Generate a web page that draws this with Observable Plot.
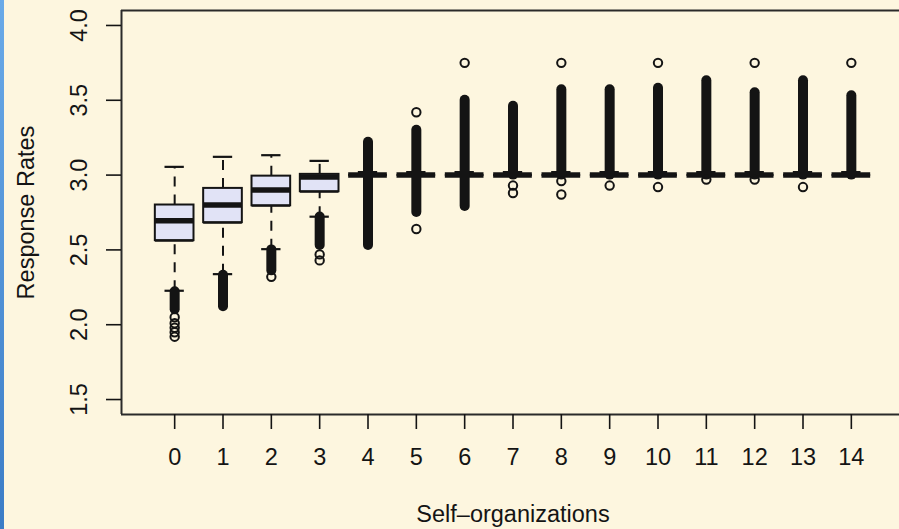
<!DOCTYPE html>
<html><head><meta charset="utf-8">
<script src="https://cdn.jsdelivr.net/npm/d3@7"></script>
<script src="https://cdn.jsdelivr.net/npm/@observablehq/plot@0.6"></script>
<style>
html,body{margin:0;padding:0;background:#FDF6DF;overflow:hidden;}
#wrap{position:relative;width:899px;height:529px;}
#wrap svg{position:absolute;left:0;top:0;}
#strip{position:absolute;left:0;top:0;width:4px;height:529px;background:linear-gradient(#6aaae8,#3b7cc6);z-index:2;}
</style></head><body><div id="wrap"><div id="strip"></div></div>
<script>
// categories: number of self-organizations
const groups = [0,1,2,3,4,5,6,7,8,9,10,11,12,13,14];
// box statistics
const whiskerLow  = [2.227,2.338,2.505,2.722,3.0,3.0,3.0,3.0,3.0,3.0,3.0,3.0,3.0,3.0,3.0];
const quartile1   = [2.562,2.682,2.795,2.889,3.0,3.0,3.0,3.0,3.0,3.0,3.0,3.0,3.0,3.0,3.0];
const medians     = [2.695,2.800,2.900,2.987,3.0,3.0,3.0,3.0,3.0,3.0,3.0,3.0,3.0,3.0,3.0];
const quartile3   = [2.800,2.911,2.993,3.005,3.0,3.0,3.0,3.0,3.0,3.0,3.0,3.0,3.0,3.0,3.0];
const whiskerHigh = [3.055,3.122,3.133,3.095,3.02,3.02,3.02,3.02,3.02,3.02,3.02,3.02,3.02,3.02,3.02];
// ranges over which outliers are so dense they form a solid column
const denseLow  = [2.10,2.12,2.36,2.53,2.53,2.75,2.79,3.00,3.00,3.00,3.00,3.00,3.00,3.00,3.00];
const denseHigh = [2.22,2.33,2.50,2.72,3.22,3.30,3.50,3.46,3.57,3.57,3.58,3.63,3.55,3.63,3.53];
// separately visible outliers
const isolatedOutliers = [
  [2.05,2.01,1.98,1.95,1.92],
  [],
  [2.32],
  [2.47,2.43],
  [],
  [3.42,2.64],
  [3.75],
  [2.93,2.88],
  [3.75,2.96,2.87],
  [2.93],
  [3.75,2.92],
  [2.97],
  [3.75,2.97],
  [2.92],
  [3.75]
];
const yTicks = [1.5,2.0,2.5,3.0,3.5,4.0];
const xTicks = groups;
const yTickLabels = ["1.5","2.0","2.5","3.0","3.5","4.0"];
const xTitle = "Self\u2013organizations";
const yTitle = "Response Rates";

const boxes = groups.map((g,i)=>({g, lo:whiskerLow[i], q1:quartile1[i], med:medians[i], q3:quartile3[i], hi:whiskerHigh[i]}));
const dense = groups.map((g,i)=>({g, lo:denseLow[i], hi:denseHigh[i]}));
const outliers = groups.flatMap((g,i)=>isolatedOutliers[i].map(v=>({g, v})));

const ink = "#141414";
const boxHalf = 0.4, capHalf = 0.2;
const fontSize = 23.5;

const chart = Plot.plot({
  width: 899, height: 529,
  marginLeft: 121, marginRight: 0, marginTop: 10, marginBottom: 115,
  style: {background: "transparent", fontFamily: "'Liberation Sans', Arial, Helvetica, sans-serif", color: ink, overflow: "visible"},
  x: {domain: [-1.1, 15.1], range: [121, 904], label: null},
  y: {domain: [1.4, 4.1], label: null},
  marks: [
    // whiskers
    Plot.ruleX(boxes, {x: "g", y1: "lo", y2: "q1", stroke: ink, strokeWidth: 2, strokeDasharray: "10,8"}),
    Plot.ruleX(boxes, {x: "g", y1: "q3", y2: "hi", stroke: ink, strokeWidth: 2, strokeDasharray: "10,8"}),
    Plot.ruleY(boxes, {y: "lo", x1: d=>d.g-capHalf, x2: d=>d.g+capHalf, stroke: ink, strokeWidth: 2.2}),
    Plot.ruleY(boxes, {y: "hi", x1: d=>d.g-capHalf, x2: d=>d.g+capHalf, stroke: ink, strokeWidth: 2.2}),
    // boxes
    Plot.rect(boxes, {x1: d=>d.g-boxHalf, x2: d=>d.g+boxHalf, y1: "q1", y2: "q3", fill: "#E1E3F6", stroke: ink, strokeWidth: 2}),
    Plot.ruleY(boxes, {y: "q1", x1: d=>d.g-boxHalf, x2: d=>d.g+boxHalf, stroke: ink, strokeWidth: 2}),
    Plot.ruleY(boxes, {y: "med", x1: d=>d.g-boxHalf, x2: d=>d.g+boxHalf, stroke: ink, strokeWidth: 5.5}),
    // outliers
    Plot.ruleX(dense, {x: "g", y1: "lo", y2: "hi", stroke: ink, strokeWidth: 10, strokeLinecap: "round"}),
    Plot.dot(outliers, {x: "g", y: "v", r: 4.2, stroke: ink, strokeWidth: 2, fill: "none"}),
    // frame (right side cropped)
    Plot.ruleY([1.4, 4.1], {stroke: "#2a2a2a", strokeWidth: 2}),
    Plot.ruleX([-1.1], {stroke: "#2a2a2a", strokeWidth: 2}),
    // axes
    Plot.axisY(yTicks, {anchor: "left", tickSize: 15, tickPadding: 20, tickRotate: -90, fontSize, strokeWidth: 1.6, tickFormat: (d,i)=>yTickLabels[i], label: null}),
    Plot.axisX(xTicks, {anchor: "bottom", tickSize: 15, tickPadding: 19, fontSize, strokeWidth: 1.6, label: null}),
    // titles
    Plot.text([xTitle], {frameAnchor: "bottom", dx: 2.5, dy: 107, lineAnchor: "bottom", fontSize, fill: ink}),
    Plot.text([yTitle], {frameAnchor: "left", dx: -88, rotate: -90, lineAnchor: "bottom", textAnchor: "middle", fontSize, fill: ink})
  ]
});
document.getElementById("wrap").appendChild(chart);
</script>
</body></html>
